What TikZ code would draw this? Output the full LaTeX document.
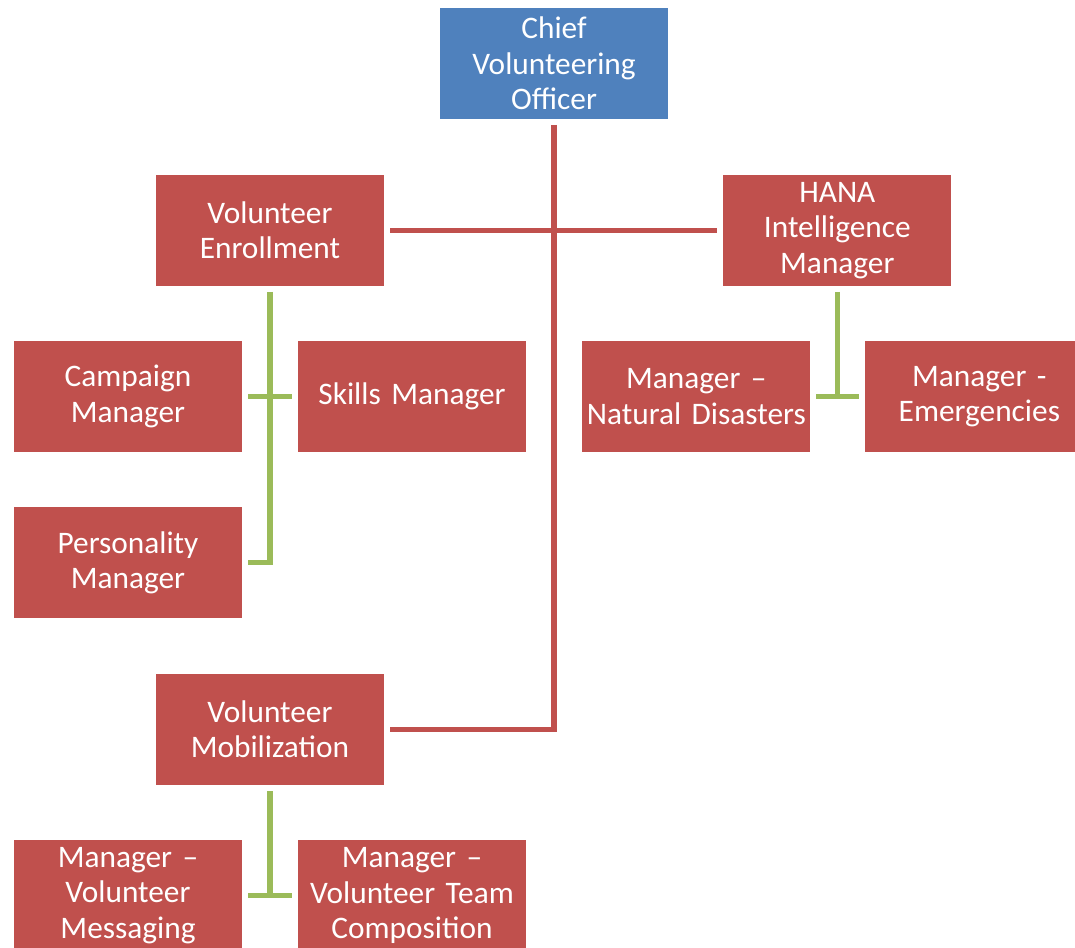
\documentclass[tikz,border=0pt]{standalone}
\usepackage{fontspec}
\setmainfont{Carlito}
\usetikzlibrary{positioning}

\begin{document}
\begin{tikzpicture}[x=0.75pt,y=0.75pt,on grid,line join=miter]
\tikzstyle{unit}=[fill=boxred,shape=rectangle,text=white,minimum width=171pt,minimum height=83.25pt,
  inner sep=1pt,outer sep=4.5pt,text width=168pt,align=center,font=\fontsize{23.5}{26.6}\selectfont]
\tikzstyle{chiefbox}=[unit,fill=boxblue]
\tikzstyle{redline}=[draw=boxred,line width=3.9pt]
\tikzstyle{greenline}=[draw=linegreen,line width=3.9pt]
\definecolor{boxred}{HTML}{C0504D}
\definecolor{boxblue}{HTML}{4F81BD}
\definecolor{linegreen}{HTML}{9BBB59}

\clip (0,0) rectangle (1075,-948);
\useasboundingbox (0,0) rectangle (1075,-948);

\node[chiefbox] (chief) at (554,-63.5) {Chief\\Volunteering\\Officer};
\node[unit]     (enroll) [below left=125.25pt and 213pt of chief]  {Volunteer\\Enrollment};
\node[unit]     (hana)   [below right=125.25pt and 212.5pt of chief] {HANA\\Intelligence\\Manager};
\node[unit]     (campaign) [below left=124.5pt and 106.5pt of enroll] {Campaign\\Manager};
\node[unit]     (skills) [right=213pt of campaign] {Skills Manager};
\node[unit]     (personality) [below=124.75pt of campaign] {Personality\\Manager};
\node[unit]     (natural) [below left=124.5pt and 105.75pt of hana] {Manager --\\Natural Disasters};
\node[unit]     (emerg)  [right=212.25pt of natural] {Manager -\\Emergencies};
\node[unit]     (mobil)  [below=374.25pt of enroll] {Volunteer\\Mobilization};
\node[unit]     (messaging) [below left=124.5pt and 106.5pt of mobil] {Manager --\\Volunteer\\Messaging};
\node[unit]     (team)   [right=213pt of messaging] {Manager --\\Volunteer Team\\Composition};

% top level
\draw[redline] (chief.south) |- (mobil.east);
\draw[redline] (enroll.east) -- (hana.west);

% enrollment branch
\draw[greenline] (enroll.south) |- (personality.east);
\draw[greenline] (campaign.east) -- (skills.west);

% intelligence branch
\draw[greenline] (hana.south) -- (hana.south |- natural.east);
\draw[greenline] (natural.east) -- (emerg.west);

% mobilization branch
\draw[greenline] (mobil.south) -- (mobil.south |- messaging.east);
\draw[greenline] (messaging.east) -- (team.west);
\end{tikzpicture}
\end{document}
